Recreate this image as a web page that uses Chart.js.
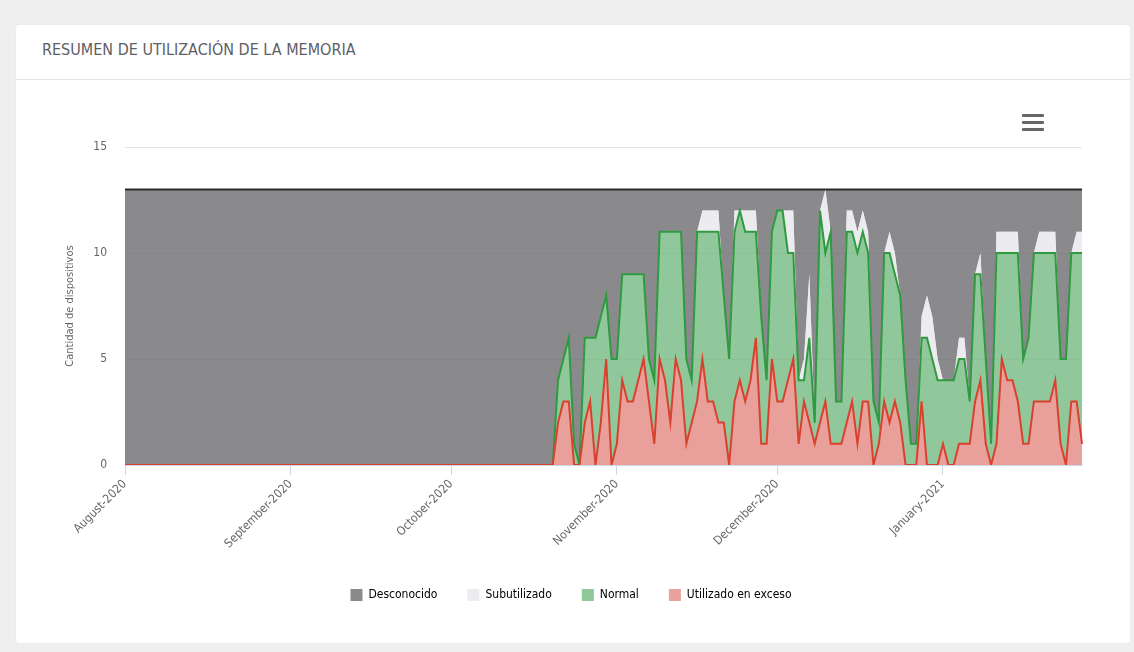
<!DOCTYPE html>
<html>
<head>
<meta charset="utf-8">
<title>Resumen de utilización de la memoria</title>
<script src="https://cdn.jsdelivr.net/npm/chart.js@4.4.1/dist/chart.umd.min.js"></script>
<style>
  html, body { margin: 0; padding: 0; width: 1134px; height: 652px; overflow: hidden; background: #efefef; }
  body { font-family: 'Liberation Sans Narrow', 'DejaVu Sans Condensed', sans-serif; }
  .card { position: absolute; left: 16px; top: 25px; width: 1114px; height: 618px; background: #fff; border-radius: 3px; box-shadow: 0 0 2px rgba(0,0,0,0.06); }
  .card-head { position: absolute; left: 0; top: 0; width: 1114px; height: 54px; border-bottom: 1px solid #e4e4e4; }
  .card-head h1 { position: absolute; left: 26px; top: 15px; margin: 0; font-size: 16px; font-weight: normal; color: #5e5e66; letter-spacing: 0; }
  .menu { position: absolute; left: 1006px; top: 89px; width: 22px; }
  .menu span { display: block; height: 3px; background: #666; margin-bottom: 4px; border-radius: 1px; }
  .chart-box { position: absolute; left: 0; top: 57px; width: 1114px; height: 561px; }
</style>
</head>
<body>
<div class="card">
  <div class="card-head"><h1>RESUMEN DE UTILIZACIÓN DE LA MEMORIA</h1></div>
  <div class="chart-box"><canvas id="memChart"></canvas></div>
  <div class="menu"><span></span><span></span><span></span></div>
</div>
<script>
// categories: one point per day, 1 Aug 2020 .. 27 Jan 2021
const firstDay = [2020, 7, 1];
const dayCount = 180;
const monthNames = ['January', 'February', 'March', 'April', 'May', 'June', 'July',
  'August', 'September', 'October', 'November', 'December'];

const days = [];
for (let i = 0; i < dayCount; i++) {
  const d = new Date(firstDay[0], firstDay[1], firstDay[2] + i);
  days.push(d.getFullYear() + '-' + String(d.getMonth() + 1).padStart(2, '0') + '-' + String(d.getDate()).padStart(2, '0'));
}

const yTicks = [0, 5, 10, 15];

// series values (devices per day)
const desconocido = [
  13, 13, 13, 13, 13, 13, 13, 13, 13, 13,
  13, 13, 13, 13, 13, 13, 13, 13, 13, 13,
  13, 13, 13, 13, 13, 13, 13, 13, 13, 13,
  13, 13, 13, 13, 13, 13, 13, 13, 13, 13,
  13, 13, 13, 13, 13, 13, 13, 13, 13, 13,
  13, 13, 13, 13, 13, 13, 13, 13, 13, 13,
  13, 13, 13, 13, 13, 13, 13, 13, 13, 13,
  13, 13, 13, 13, 13, 13, 13, 13, 13, 13,
  13, 9, 8, 7, 12, 13, 7, 7, 7, 6,
  5, 8, 8, 4, 4, 4, 4, 4, 8, 9,
  2, 2, 2, 2, 2, 8, 9, 2, 1, 1,
  1, 1, 5, 8, 1, 1, 1, 1, 1, 6,
  9, 2, 1, 1, 1, 1, 9, 8, 4, 11,
  1, 0, 2, 10, 10, 1, 1, 2, 1, 2,
  10, 11, 3, 2, 3, 5, 9, 12, 12, 6,
  5, 6, 8, 9, 9, 9, 7, 7, 10, 4,
  3, 8, 12, 2, 2, 2, 2, 2, 8, 7,
  3, 2, 2, 2, 2, 8, 8, 3, 2, 2
];

const subutilizado = [
  0, 0, 0, 0, 0, 0, 0, 0, 0, 0,
  0, 0, 0, 0, 0, 0, 0, 0, 0, 0,
  0, 0, 0, 0, 0, 0, 0, 0, 0, 0,
  0, 0, 0, 0, 0, 0, 0, 0, 0, 0,
  0, 0, 0, 0, 0, 0, 0, 0, 0, 0,
  0, 0, 0, 0, 0, 0, 0, 0, 0, 0,
  0, 0, 0, 0, 0, 0, 0, 0, 0, 0,
  0, 0, 0, 0, 0, 0, 0, 0, 0, 0,
  0, 0, 0, 0, 0, 0, 0, 0, 0, 0,
  0, 0, 0, 0, 0, 0, 0, 0, 0, 0,
  0, 0, 0, 0, 0, 0, 0, 0, 1, 1,
  1, 1, 0, 0, 1, 0, 1, 1, 1, 0,
  0, 0, 0, 0, 2, 2, 0, 1, 3, 0,
  0, 3, 0, 0, 0, 1, 1, 1, 1, 1,
  0, 0, 0, 1, 1, 0, 0, 0, 0, 1,
  2, 2, 1, 0, 0, 0, 1, 1, 0, 0,
  1, 0, 0, 1, 1, 1, 1, 1, 0, 0,
  0, 1, 1, 1, 1, 0, 0, 0, 1, 1
];

const normal = [
  0, 0, 0, 0, 0, 0, 0, 0, 0, 0,
  0, 0, 0, 0, 0, 0, 0, 0, 0, 0,
  0, 0, 0, 0, 0, 0, 0, 0, 0, 0,
  0, 0, 0, 0, 0, 0, 0, 0, 0, 0,
  0, 0, 0, 0, 0, 0, 0, 0, 0, 0,
  0, 0, 0, 0, 0, 0, 0, 0, 0, 0,
  0, 0, 0, 0, 0, 0, 0, 0, 0, 0,
  0, 0, 0, 0, 0, 0, 0, 0, 0, 0,
  0, 2, 2, 3, 1, 0, 4, 3, 6, 5,
  3, 5, 4, 5, 6, 6, 5, 4, 2, 3,
  6, 7, 9, 6, 7, 4, 2, 8, 6, 8,
  8, 9, 6, 5, 8, 8, 8, 7, 5, 6,
  3, 6, 9, 9, 6, 5, 3, 1, 4, 1,
  10, 7, 10, 2, 2, 9, 8, 9, 8, 7,
  3, 1, 7, 8, 6, 6, 4, 1, 1, 3,
  6, 5, 4, 3, 4, 4, 4, 4, 2, 6,
  5, 4, 1, 9, 5, 6, 6, 7, 4, 5,
  7, 7, 7, 7, 6, 4, 5, 7, 7, 9
];

const exceso = [
  0, 0, 0, 0, 0, 0, 0, 0, 0, 0,
  0, 0, 0, 0, 0, 0, 0, 0, 0, 0,
  0, 0, 0, 0, 0, 0, 0, 0, 0, 0,
  0, 0, 0, 0, 0, 0, 0, 0, 0, 0,
  0, 0, 0, 0, 0, 0, 0, 0, 0, 0,
  0, 0, 0, 0, 0, 0, 0, 0, 0, 0,
  0, 0, 0, 0, 0, 0, 0, 0, 0, 0,
  0, 0, 0, 0, 0, 0, 0, 0, 0, 0,
  0, 2, 3, 3, 0, 0, 2, 3, 0, 2,
  5, 0, 1, 4, 3, 3, 4, 5, 3, 1,
  5, 4, 2, 5, 4, 1, 2, 3, 5, 3,
  3, 2, 2, 0, 3, 4, 3, 4, 6, 1,
  1, 5, 3, 3, 4, 5, 1, 3, 2, 1,
  2, 3, 1, 1, 1, 2, 3, 1, 3, 3,
  0, 1, 3, 2, 3, 2, 0, 0, 0, 3,
  0, 0, 0, 1, 0, 0, 1, 1, 1, 3,
  4, 1, 0, 1, 5, 4, 4, 3, 1, 1,
  3, 3, 3, 3, 4, 1, 0, 3, 3, 1
];

const fontFamily = "'Liberation Sans Narrow', 'DejaVu Sans Condensed', sans-serif";

function monthLabel(day) {
  const parts = day.split('-');
  if (parts[2] !== '01') return '';
  return monthNames[parseInt(parts[1], 10) - 1] + '-' + parts[0];
}

// stacked bottom -> top: exceso, normal, subutilizado, desconocido
const datasets = [
  {
    label: 'Utilizado en exceso', data: exceso,
    borderColor: '#d9412f', backgroundColor: 'rgba(226,128,120,0.75)', legendColor: '#e8a19b',
    borderWidth: 2, fill: 'origin'
  },
  {
    label: 'Normal', data: normal,
    borderColor: '#2f9a40', backgroundColor: 'rgba(108,182,122,0.75)', legendColor: '#90c89b',
    borderWidth: 2, fill: '-1'
  },
  {
    label: 'Subutilizado', data: subutilizado,
    borderColor: 'rgba(0,0,0,0)', backgroundColor: 'rgba(230,230,235,0.75)', legendColor: '#ececf0',
    borderWidth: 1, fill: '-1'
  },
  {
    label: 'Desconocido', data: desconocido,
    borderColor: '#2b2b2b', backgroundColor: 'rgba(99,99,101,0.75)', legendColor: '#8a8a8b',
    borderWidth: 2, fill: '-1'
  }
];

const ctx = document.getElementById('memChart').getContext('2d');
new Chart(ctx, {
  type: 'line',
  data: { labels: days, datasets: datasets },
  options: {
    responsive: true,
    maintainAspectRatio: false,
    animation: false,
    layout: { padding: { left: 44, right: 48, top: 65, bottom: 32 } },
    elements: {
      point: { radius: 0, hoverRadius: 0 },
      line: { tension: 0 }
    },
    scales: {
      x: {
        offset: false,
        grid: {
          drawOnChartArea: false,
          tickLength: 10,
          color: function (c) { return c.tick && monthLabel(days[c.index]) ? '#ccd6eb' : 'rgba(0,0,0,0)'; }
        },
        border: { color: '#ccd6eb', width: 1 },
        ticks: {
          autoSkip: false,
          minRotation: 45,
          maxRotation: 45,
          padding: 2,
          color: '#666',
          font: { family: fontFamily, size: 12 },
          callback: function (value, index) { return monthLabel(days[index]); }
        },
        afterFit: function (scale) { scale.height = 94; }
      },
      y: {
        stacked: true,
        min: 0,
        max: 15,
        afterBuildTicks: function (scale) { scale.ticks = yTicks.map(function (v) { return { value: v }; }); },
        grid: { color: 'rgba(0,0,0,0.1)', drawTicks: false },
        border: { display: false },
        ticks: { padding: 18, color: '#666', font: { family: fontFamily, size: 12 } },
        title: {
          display: true,
          text: 'Cantidad de dispositivos',
          color: '#666',
          font: { family: fontFamily, size: 11 }
        },
        afterFit: function (scale) { scale.width = 65; }
      }
    },
    plugins: {
      tooltip: { enabled: false },
      legend: {
        position: 'bottom',
        reverse: true,
        labels: {
          boxWidth: 12,
          boxHeight: 12,
          padding: 30,
          color: '#555',
          font: { family: fontFamily, size: 12 },
          generateLabels: function (chart) {
            return chart.data.datasets.map(function (ds, i) {
              return {
                text: ds.label,
                fillStyle: ds.legendColor,
                strokeStyle: ds.legendColor,
                lineWidth: 0,
                hidden: false,
                datasetIndex: i
              };
            });
          }
        }
      }
    }
  }
});
</script>
</body>
</html>
